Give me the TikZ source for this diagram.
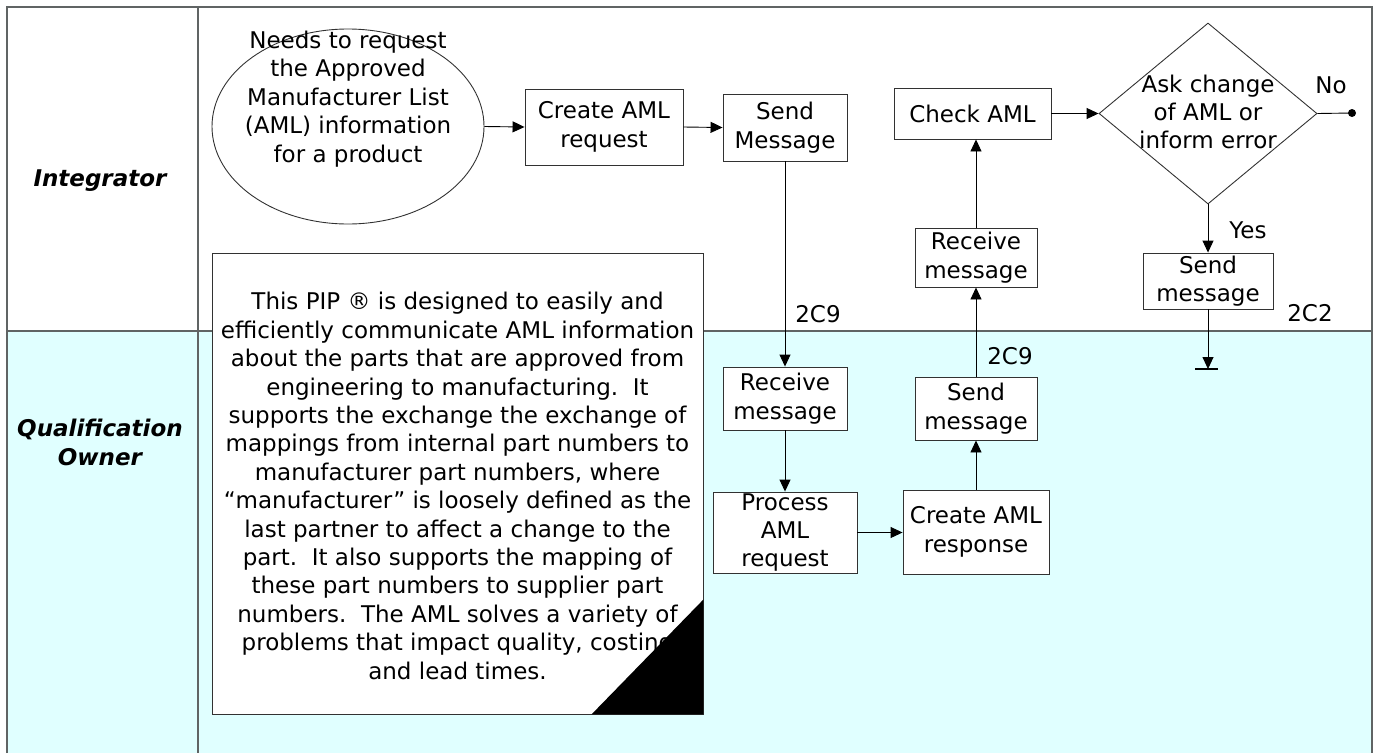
\documentclass[tikz,border=0pt]{standalone}
\usepackage{fontspec}
\setmainfont{DejaVu Sans}
\usetikzlibrary{shapes.geometric,arrows.meta}
\definecolor{lanecyan}{RGB}{224,255,255}
\definecolor{lanegray}{RGB}{96,100,100}
\definecolor{boxgray}{RGB}{50,50,50}
\tikzset{
  every node/.style={font=\fontsize{23}{28.4}\selectfont},
  laneline/.style={draw=lanegray, line width=1.3pt},
  procbox/.style={draw=boxgray, line width=0.9pt, fill=white, align=center, inner sep=0pt},
  txt/.style={align=center, inner sep=0pt},
  flow/.style={draw=black, line width=0.9pt, -{Triangle[length=12pt,width=11pt]}},
  lanelabel/.style={align=center, inner sep=0pt, font=\fontsize{23}{29}\selectfont\bfseries\itshape}
}
\begin{document}
\begin{tikzpicture}[x=1pt,y=-1pt]
\useasboundingbox (0,0) rectangle (1378,753);
% lanes
\fill[lanecyan] (7,331) rectangle (1372,753);
\draw[laneline] (7,753) -- (7,7) -- (1372,7) -- (1372,753);
\draw[laneline] (198,7) -- (198,753);
\draw[laneline] (7,331) -- (1372,331);
\node[lanelabel] (lane1) at (100,181) {Integrator};
\node[lanelabel] (lane2) at (100,442) {Qualification\\Owner};

% note
\node[draw=boxgray, line width=0.9pt, fill=white, minimum width=491pt, minimum height=461pt, inner sep=0pt] (note) at (457.5,483.5) {};
\node[txt] (notetext) at (457.5,486) {This PIP ® is designed to easily and\\
efficiently communicate AML information\\
about the parts that are approved from\\
engineering to manufacturing.\ \ It\\
supports the exchange the exchange of\\
mappings from internal part numbers to\\
manufacturer part numbers, where\\
“manufacturer” is loosely defined as the\\
last partner to affect a change to the\\
part.\ \ It also supports the mapping of\\
these part numbers to supplier part\\
numbers.\ \ The AML solves a variety of\\
problems that impact quality, costing\\
and lead times.};
\fill[black] (note.south east) -- ++(-112,0) -- ++(112,-115) -- cycle;

% integrator flow
\node[draw=boxgray, line width=0.9pt, ellipse, minimum width=272pt, minimum height=195pt, inner sep=0pt] (start) at (348,126.5) {};
\node[txt] (starttext) at (348,99) {Needs to request\\the Approved\\Manufacturer List\\(AML) information\\for a product};
\node[procbox, minimum width=158pt, minimum height=76pt] (create) at (604,127) {Create AML\\request};
\node[procbox, minimum width=124pt, minimum height=67pt] (sendI) at (785,127.5) {Send\\Message};
\node[procbox, minimum width=157pt, minimum height=51pt] (check) at (972.5,113.5) {Check AML};
\node[procbox, minimum width=122pt, minimum height=59pt] (recvI) at (976,257.5) {Receive\\message};
\node[draw=boxgray, line width=0.9pt, diamond, minimum width=218pt, minimum height=181pt, inner sep=0pt] (dec) at (1208,113.5) {};
\node[txt] (dectext) at (1208,112) {Ask change\\of AML or\\inform error};
\node[procbox, minimum width=130pt, minimum height=56pt] (sendR) at (1208,281) {Send\\message};

% qualification owner flow
\node[procbox, minimum width=124pt, minimum height=63pt] (recvQ) at (785,398.5) {Receive\\message};
\node[procbox, minimum width=144pt, minimum height=81pt] (proc) at (785,532.5) {Process\\AML\\request};
\node[procbox, minimum width=146pt, minimum height=84pt] (createR) at (976,532) {Create AML\\response};
\node[procbox, minimum width=122pt, minimum height=63pt] (sendQ) at (976,408.5) {Send\\message};

\coordinate (nodot) at (1352,113);
\coordinate (endbar) at (1208,369);

% connectors
\draw[flow] (start.east) -- (create.west);
\draw[flow] (create.east) -- (sendI.west);
\draw[flow] (sendI.south) -- (recvQ.north);
\draw[flow] (recvQ.south) -- (proc.north);
\draw[flow] (proc.east) -- (proc.east -| createR.west);
\draw[flow] (createR.north) -- (sendQ.south);
\draw[flow] (sendQ.north) -- (recvI.south);
\draw[flow] (recvI.north) -- (recvI.north |- check.south);
\draw[flow] (check.east) -- (dec.west);
\draw[line width=0.9pt] (dec.east) -- (nodot);
\fill (nodot) circle (4pt);
\draw[flow] (dec.south) -- (sendR.north);
\draw[flow] (sendR.south) -- (endbar);
\draw[line width=2pt] ([xshift=-13pt]endbar) -- ([xshift=10pt]endbar);

% labels
\node[txt] (l2c9a) at (818,314) {2C9};
\node[txt] (l2c9b) at (1010,356) {2C9};
\node[txt] (l2c2) at (1310,313) {2C2};
\node[txt] (lyes) at (1248,230) {Yes};
\node[txt] (lno) at (1331,85) {No};
\end{tikzpicture}
\end{document}
